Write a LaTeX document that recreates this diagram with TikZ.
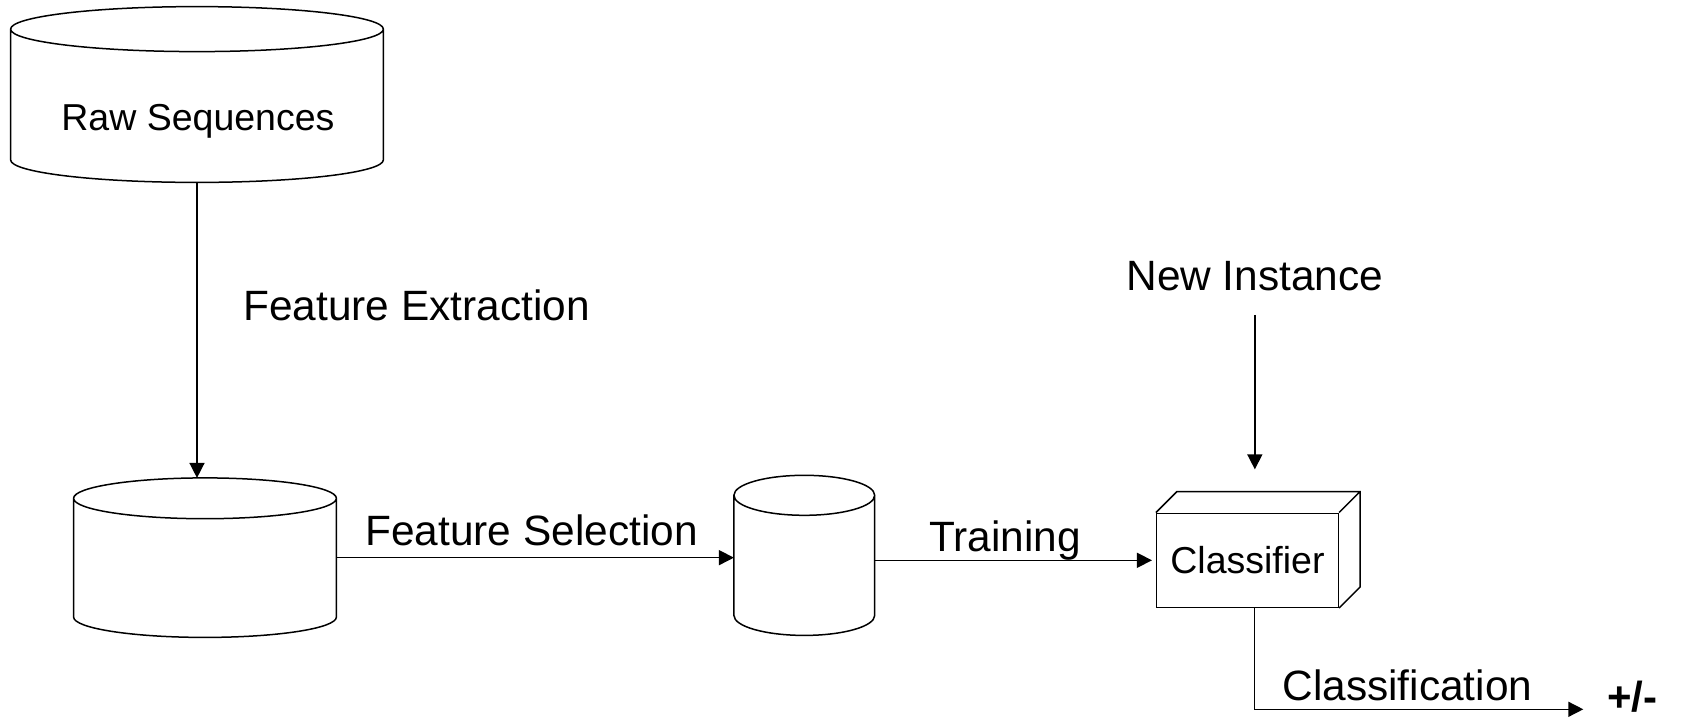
\documentclass[tikz,border=0pt]{standalone}
\usepackage{fontspec}
\setmainfont{Liberation Sans}
\usetikzlibrary{calc,arrows.meta}

% outline of a data store: full top ellipse, two sides, lower half ellipse
\newcommand\drumoutline[2]{%
  \draw[line] let \p1=(#1.west), \p2=(#1.east), \n1={(\x2-\x1)/2} in
    ($(#1.north)+(0,-#2)$) ellipse[x radius={\n1*1pt}, y radius=#2]
    ($(#1.north west)+(0,-#2)$) -- ($(#1.south west)+(0,#2)$)
    arc[start angle=180, end angle=360, x radius={\n1*1pt}, y radius=#2]
    -- ($(#1.north east)+(0,-#2)$);
}

\begin{document}
\begin{tikzpicture}[x=0.5pt,y=-0.5pt,
  line/.style={line width=0.75pt, black},
  arr/.style={line, -{Triangle[length=7.5pt,width=7.5pt]}},
  store/.style={rectangle, inner sep=0pt},
  lbl/.style={inner sep=0pt, anchor=base west, font=\fontsize{21.2pt}{25pt}\selectfont},
  boxtext/.style={inner sep=0pt, font=\fontsize{18.75pt}{22pt}\selectfont},
  depth/.style={line}
]
\useasboundingbox (0,0) rectangle (1681,724);

% data stores
\node[store, minimum width=186pt, minimum height=87.5pt] (raw) at (197,94.5) {};
\node[store, minimum width=131pt, minimum height=79.35pt] (feat) at (205,557.65) {};
\node[store, minimum width=70pt, minimum height=79.65pt] (sel) at (804.3,555.35) {};
\drumoutline{raw}{11.25pt}
\drumoutline{feat}{10.2pt}
\drumoutline{sel}{10pt}
\node[boxtext, anchor=base west] (rawtxt) at (61,130.7) {Raw Sequences};

% classifier block
\node[draw, line, boxtext, minimum width=90.8pt, minimum height=47pt] (cls) at (1247.5,560.3) {Classifier};
\draw[depth] (cls.north west) -- ++(10.5pt,10.5pt)
  -- ($(cls.north east)+(10.5pt,10.5pt)$)
  -- ($(cls.south east)+(10.5pt,10.5pt)$) -- (cls.south east)
  (cls.north east) -- ++(10.5pt,10.5pt);

% labels
\node[lbl] (fe) at (243,320) {Feature Extraction};
\node[lbl] (fs) at (365,545) {Feature Selection};
\node[lbl] (tr) at (929,551.7) {Training};
\node[lbl] (ni) at (1126,290) {New Instance};
\node[lbl] (cf) at (1282,700) {Classification};
\node[lbl, font=\fontsize{21pt}{24pt}\selectfont\bfseries] (pm) at (1607,711) {+/-};
\coordinate (out) at (1583.3,709.3);

% connectors
\draw[arr] (raw.south) -- (raw.south |- feat.north);
\draw[arr] (feat.east) -- (feat.east -| sel.west);
\draw[arr, shorten >=2pt] (sel.east |- cls.west) -- (cls.west);
\draw[arr, shorten <=12pt, shorten >=21.6pt] (ni.south) -- (ni.south |- cls.north);
\draw[arr] ([xshift=3.4pt]cls.south) |- (out);
\end{tikzpicture}
\end{document}
